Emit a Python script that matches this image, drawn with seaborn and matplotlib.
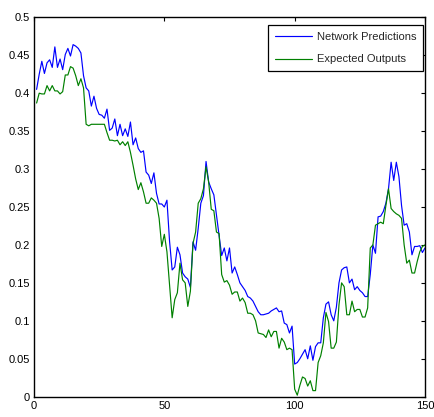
import matplotlib
matplotlib.use("Agg")
import matplotlib.pyplot as plt
import seaborn as sns
import pandas as pd
import numpy as np

# Values (sample index 1..150)
network_predictions = [
    0.405, 0.425, 0.442, 0.426, 0.440, 0.444, 0.434, 0.461, 0.434, 0.445,
    0.431, 0.451, 0.459, 0.449, 0.464, 0.462, 0.459, 0.453, 0.423, 0.407,
    0.403, 0.383, 0.396, 0.380, 0.372, 0.371, 0.367, 0.379, 0.351, 0.354,
    0.366, 0.344, 0.359, 0.344, 0.353, 0.343, 0.362, 0.332, 0.341, 0.327,
    0.322, 0.324, 0.296, 0.292, 0.281, 0.295, 0.268, 0.254, 0.254, 0.250,
    0.259, 0.205, 0.167, 0.171, 0.197, 0.187, 0.163, 0.158, 0.155, 0.144,
    0.204, 0.193, 0.222, 0.255, 0.265, 0.310, 0.283, 0.274, 0.266, 0.239,
    0.213, 0.186, 0.196, 0.179, 0.196, 0.163, 0.171, 0.161, 0.150, 0.145,
    0.140, 0.132, 0.130, 0.126, 0.119, 0.112, 0.108, 0.108, 0.109, 0.110,
    0.113, 0.115, 0.117, 0.112, 0.113, 0.097, 0.095, 0.084, 0.093, 0.043,
    0.045, 0.050, 0.056, 0.062, 0.050, 0.067, 0.048, 0.066, 0.071, 0.071,
    0.104, 0.122, 0.125, 0.108, 0.100, 0.118, 0.150, 0.167, 0.170, 0.171,
    0.150, 0.155, 0.141, 0.145, 0.140, 0.137, 0.132, 0.132, 0.161, 0.200,
    0.189, 0.237, 0.238, 0.244, 0.255, 0.274, 0.309, 0.285, 0.309, 0.290,
    0.252, 0.226, 0.228, 0.217, 0.187, 0.198, 0.198, 0.199, 0.190, 0.196,
]

expected_outputs = [
    0.387, 0.400, 0.399, 0.399, 0.410, 0.403, 0.410, 0.403, 0.403, 0.399,
    0.402, 0.424, 0.424, 0.435, 0.433, 0.423, 0.410, 0.419, 0.407, 0.359,
    0.357, 0.359, 0.359, 0.359, 0.359, 0.359, 0.359, 0.348, 0.338, 0.338,
    0.337, 0.338, 0.332, 0.336, 0.331, 0.336, 0.322, 0.305, 0.287, 0.273,
    0.282, 0.270, 0.255, 0.255, 0.262, 0.259, 0.255, 0.235, 0.198, 0.214,
    0.191, 0.147, 0.104, 0.128, 0.137, 0.176, 0.154, 0.150, 0.119, 0.139,
    0.202, 0.217, 0.255, 0.261, 0.274, 0.303, 0.283, 0.247, 0.245, 0.217,
    0.215, 0.161, 0.151, 0.153, 0.147, 0.135, 0.138, 0.138, 0.126, 0.130,
    0.124, 0.110, 0.110, 0.108, 0.100, 0.084, 0.083, 0.082, 0.078, 0.088,
    0.079, 0.086, 0.086, 0.064, 0.077, 0.072, 0.062, 0.064, 0.062, 0.010,
    0.002, 0.015, 0.026, 0.024, 0.014, 0.021, 0.008, 0.008, 0.045, 0.054,
    0.071, 0.111, 0.099, 0.064, 0.064, 0.072, 0.121, 0.150, 0.145, 0.108,
    0.108, 0.126, 0.112, 0.115, 0.115, 0.105, 0.105, 0.117, 0.196, 0.200,
    0.226, 0.228, 0.230, 0.228, 0.252, 0.274, 0.248, 0.244, 0.241, 0.239,
    0.235, 0.200, 0.176, 0.180, 0.163, 0.163, 0.178, 0.191, 0.198, 0.200,
]

samples = np.arange(1, len(network_predictions) + 1)
x_ticks = [0, 50, 100, 150]
y_ticks = [0, 0.05, 0.1, 0.15, 0.2, 0.25, 0.3, 0.35, 0.4, 0.45, 0.5]
y_tick_labels = ["0", "0.05", "0.1", "0.15", "0.2", "0.25", "0.3", "0.35", "0.4", "0.45", "0.5"]

df = pd.DataFrame({
    "sample": np.concatenate([samples, samples]),
    "value": network_predictions + expected_outputs,
    "series": ["Network Predictions"] * len(samples) + ["Expected Outputs"] * len(samples),
})

sns.set_style("white")
plt.rcParams["font.family"] = ["Liberation Sans", "DejaVu Sans"]

fig = plt.figure(figsize=(4.35, 4.17), dpi=100)
ax = fig.add_axes([34 / 435, (417 - 396.7) / 417, 391 / 435, 379.4 / 417])

sns.lineplot(data=df, x="sample", y="value", hue="series",
             palette={"Network Predictions": "#0000ff", "Expected Outputs": "#008000"},
             linewidth=0.85, ax=ax)

ax.set_xlim(0, 150)
ax.set_ylim(0, 0.5)
ax.set_xticks(x_ticks)
ax.set_xticklabels([str(t) for t in x_ticks])
ax.set_yticks(y_ticks)
ax.set_yticklabels(y_tick_labels)
ax.set_xlabel("")
ax.set_ylabel("")
ax.tick_params(direction="in", length=3, width=0.8, labelsize=8, colors="black",
               top=True, right=True, pad=3)
for s in ax.spines.values():
    s.set_color("black")
    s.set_linewidth(1.0)

leg = ax.legend(loc="upper right", bbox_to_anchor=(0.9957, 0.9797), borderaxespad=0,
                fontsize=8, frameon=True, fancybox=False, handlelength=3.3,
                handletextpad=0.5, labelspacing=1.15, borderpad=0.6)
leg.get_frame().set_edgecolor("black")
leg.get_frame().set_linewidth(0.9)
leg.get_frame().set_alpha(1)

plt.savefig("out.png", dpi=100)
plt.close()
